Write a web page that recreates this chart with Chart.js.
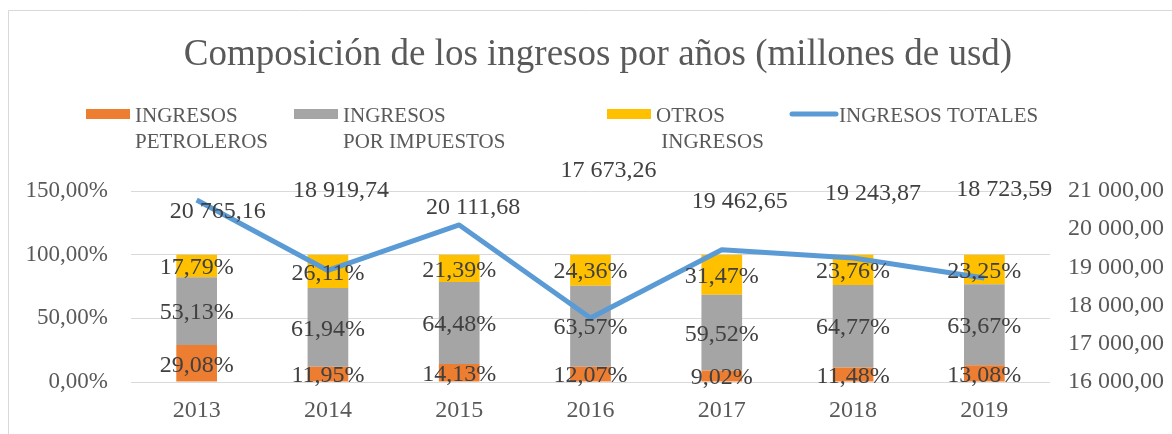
<!DOCTYPE html>
<html>
<head>
<meta charset="utf-8">
<script src="https://cdn.jsdelivr.net/npm/chart.js@4/dist/chart.umd.min.js"></script>
<style>
  body { margin: 0; background: #fff; }
  #wrap { width: 1172px; height: 434px; }
</style>
</head>
<body>
<div id="wrap"><canvas id="chart" width="1172" height="434"></canvas></div>
<script>
// datos del gráfico
const categories = ['2013', '2014', '2015', '2016', '2017', '2018', '2019'];
const petroleros = [29.08, 11.95, 14.13, 12.07, 9.02, 11.48, 13.08];
const impuestos = [53.13, 61.94, 64.48, 63.57, 59.52, 64.77, 63.67];
const otros = [17.79, 26.11, 21.39, 24.36, 31.47, 23.76, 23.25];
const totales = [20765.16, 18919.74, 20111.68, 17673.26, 19462.65, 19243.87, 18723.59];

const titleText = 'Composición de los ingresos por años (millones de usd)';
const legendLines = [
    ['INGRESOS', 'PETROLEROS'],
    ['INGRESOS', 'POR IMPUESTOS'],
    ['OTROS', ' INGRESOS'],
    ['INGRESOS TOTALES']
];

// desplazamiento de las etiquetas de la línea (como las dejó Excel)
const totalLabelOffsets = [[21, 12], [13, -80], [14, -17], [18, -147], [18, -48], [20, -64], [20, -88]];

const FONT = "'Liberation Serif', 'Times New Roman', serif";
const TEXT_COLOR = '#595959';
const LABEL_COLOR = '#404040';

// formato numérico español: 20 765,16
function fmtNumber(n, decimals) {
    const parts = n.toFixed(decimals).split('.');
    parts[0] = parts[0].replace(/\B(?=(\d{3})+(?!\d))/g, ' ');
    return parts.join(',');
}

function fmtPct(n) {
    return fmtNumber(n, 2) + '%';
}

// título, leyenda y borde dibujados a mano
const decorPlugin = {
    id: 'decor',
    beforeDraw(chart) {
        const c = chart.ctx;
        c.save();
        c.fillStyle = '#fff';
        c.fillRect(0, 0, chart.width, chart.height);
        c.strokeStyle = '#d9d9d9';
        c.lineWidth = 1;
        c.beginPath();
        c.moveTo(8.5, chart.height);
        c.lineTo(8.5, 10.5);
        c.lineTo(chart.width, 10.5);
        c.stroke();

        c.fillStyle = TEXT_COLOR;
        c.font = '37px ' + FONT;
        c.textAlign = 'center';
        c.textBaseline = 'alphabetic';
        c.fillText(titleText, 598, 65);

        const swatchX = [86, 294, 607, 790];
        const ds = chart.data.datasets;
        const order = [1, 2, 3, 0];
        c.font = '21px ' + FONT;
        c.textAlign = 'left';
        order.forEach((di, i) => {
            const x = swatchX[i];
            const d = ds[di];
            if (d.type === 'line') {
                c.strokeStyle = d.borderColor;
                c.lineWidth = 5;
                c.lineCap = 'round';
                c.beginPath();
                c.moveTo(x + 2, 114);
                c.lineTo(x + 46, 114);
                c.stroke();
            } else {
                c.fillStyle = d.backgroundColor;
                c.fillRect(x, 109, 44, 10);
            }
            c.fillStyle = TEXT_COLOR;
            legendLines[i].forEach((line, k) => {
                c.fillText(line, x + 49, 122 + k * 26);
            });
        });
        c.restore();
    },
    afterDatasetsDraw(chart) {
        const c = chart.ctx;
        c.save();
        c.font = '24px ' + FONT;
        c.fillStyle = LABEL_COLOR;
        c.textAlign = 'center';
        c.textBaseline = 'middle';
        chart.data.datasets.forEach((d, di) => {
            const meta = chart.getDatasetMeta(di);
            meta.data.forEach((el, i) => {
                if (d.type === 'bar') {
                    const p = el.getProps(['x', 'y', 'base'], true);
                    c.fillText(fmtPct(d.data[i]), p.x, (p.y + p.base) / 2 + 2);
                } else {
                    const p = el.getProps(['x', 'y'], true);
                    const off = totalLabelOffsets[i];
                    c.fillText(fmtNumber(d.data[i], 2), p.x + off[0], p.y + off[1]);
                }
            });
        });
        c.restore();
    }
};

const ctx = document.getElementById('chart').getContext('2d');
new Chart(ctx, {
    data: {
        labels: categories,
        datasets: [
            {
                type: 'line',
                label: 'INGRESOS TOTALES',
                data: totales,
                yAxisID: 'y1',
                borderColor: '#5B9BD5',
                borderWidth: 5,
                borderJoinStyle: 'round',
                pointRadius: 0,
                tension: 0,
                order: 0
            },
            {
                type: 'bar',
                label: 'INGRESOS PETROLEROS',
                data: petroleros,
                yAxisID: 'y',
                backgroundColor: '#ED7D31',
                barPercentage: 0.31,
                categoryPercentage: 1,
                order: 1
            },
            {
                type: 'bar',
                label: 'INGRESOS POR IMPUESTOS',
                data: impuestos,
                yAxisID: 'y',
                backgroundColor: '#A5A5A5',
                barPercentage: 0.31,
                categoryPercentage: 1,
                order: 1
            },
            {
                type: 'bar',
                label: 'OTROS INGRESOS',
                data: otros,
                yAxisID: 'y',
                backgroundColor: '#FFC000',
                barPercentage: 0.31,
                categoryPercentage: 1,
                order: 1
            }
        ]
    },
    options: {
        responsive: false,
        animation: false,
        layout: { padding: { top: 191, left: 0, right: 0, bottom: 0 } },
        plugins: {
            legend: { display: false },
            title: { display: false },
            tooltip: { enabled: false }
        },
        scales: {
            x: {
                stacked: true,
                grid: { display: false, drawTicks: false },
                border: { display: false },
                ticks: { color: TEXT_COLOR, font: { family: FONT, size: 24 }, padding: 14 },
                afterFit: s => { s.height = 52; }
            },
            y: {
                position: 'left',
                stacked: true,
                min: 0,
                max: 150,
                grid: { color: '#d9d9d9', drawTicks: false },
                border: { display: false },
                ticks: {
                    stepSize: 50,
                    color: TEXT_COLOR,
                    font: { family: FONT, size: 23 },
                    padding: 23,
                    callback: v => fmtPct(v)
                },
                afterFit: s => { s.width = 131; }
            },
            y1: {
                position: 'right',
                stacked: false,
                min: 16000,
                max: 21000,
                grid: { display: false, drawTicks: false },
                border: { display: false },
                ticks: {
                    stepSize: 1000,
                    color: TEXT_COLOR,
                    font: { family: FONT, size: 24 },
                    padding: 18,
                    callback: v => fmtNumber(v, 2)
                },
                afterFit: s => { s.width = 122; }
            }
        }
    },
    plugins: [decorPlugin]
});
</script>
</body>
</html>
